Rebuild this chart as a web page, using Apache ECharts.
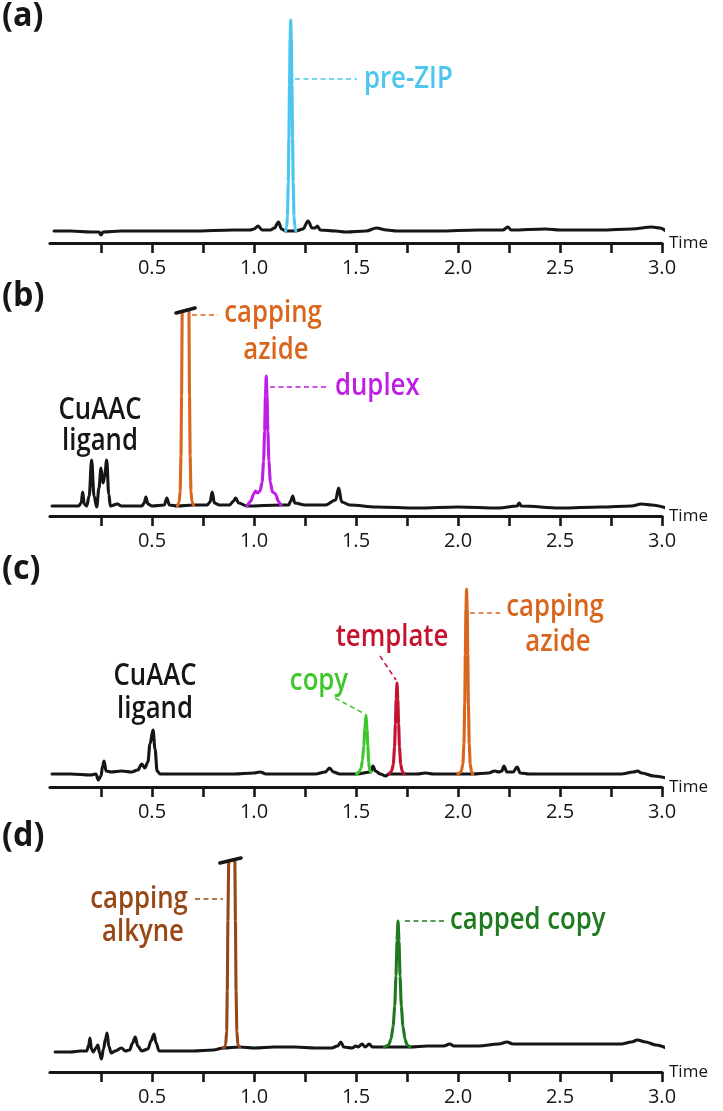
<!DOCTYPE html>
<html>
<head>
<meta charset="utf-8">
<script src="https://cdn.jsdelivr.net/npm/echarts@6/dist/echarts.min.js"></script>
<style>
html,body{margin:0;padding:0;background:#fff;}
#chart{width:723px;height:1111px;}
</style>
</head>
<body>
<div id="chart"></div>
<script>
// ---------- DATA (retention time in min, signal in arbitrary units) ----------
const timeTicks = [0.25, 0.5, 0.75, 1.0, 1.25, 1.5, 1.75, 2.0, 2.25, 2.5, 2.75, 3.0];
const timeLabels = [0.5, 1.0, 1.5, 2.0, 2.5, 3.0];
const panelLetters = ['(a)', '(b)', '(c)', '(d)'];

// (a)
const traceA = [[0.02,0],[0.10,0],[0.20,-1],[0.24,-1],[0.25,-4],[0.26,-1],[0.35,0],[0.5,0],[0.7,0],[0.9,1],[0.98,1],[1.0,2],[1.02,5],[1.04,1],[1.08,1],[1.10,3],[1.12,9],[1.135,2],[1.155,0],
  [1.205,0],[1.24,2],[1.265,10],[1.285,3],[1.30,3],[1.31,5],[1.325,1],[1.40,0],[1.45,-1],[1.55,0],[1.60,3],[1.65,1],[1.70,0],[1.90,0],[2.10,1],[2.22,1],[2.245,4],[2.26,1],[2.43,2],[2.50,1],[2.70,1],[2.85,2],[2.95,4],[2.99,3],[3.02,0]];
const peakPreZIP = [[1.155,0],[1.16,4],[1.164,15],[1.168,49],[1.171,93],[1.174,146],[1.177,192],[1.18,211],[1.183,192],[1.186,146],[1.189,93],[1.192,49],[1.196,15],[1.20,4],[1.205,0]];

// (b)
const traceB = [[0.01,0],[0.10,0],[0.14,0],[0.153,3],[0.16,14],[0.168,2],[0.18,0],[0.192,10],[0.204,46],[0.216,10],[0.229,-1],[0.24,18],[0.25,38],[0.26,23],[0.268,30],[0.278,46],[0.288,12],[0.296,0],[0.33,2],[0.35,0],[0.45,0],[0.462,3],[0.47,9],[0.48,2],[0.50,0],[0.56,1],[0.573,8],[0.585,1],[0.625,0],
  [0.703,1],[0.77,1],[0.785,4],[0.795,14],[0.806,3],[0.83,1],[0.88,1],[0.90,5],[0.91,8],[0.925,3],[0.965,0],
  [1.132,1],[1.17,1],[1.18,5],[1.19,10],[1.20,3],[1.25,1],[1.35,1],[1.40,6],[1.415,18],[1.43,4],[1.47,1],[1.60,-1],[1.80,-2],[2.00,-1],[2.20,-2],[2.29,0],[2.30,3],[2.31,0],[2.50,-2],[2.70,-1],[2.85,0],[2.90,2],[2.95,1],[3.02,-2]];
const peakCapAzideB = [[0.625,0],[0.633,4],[0.638,15],[0.642,50],[0.645,110],[0.648,194.5],[0.681,196.5],[0.684,110],[0.687,50],[0.691,15],[0.696,4],[0.703,1]];
const peakDuplexB = [[0.965,0],[0.985,5],[0.998,12],[1.008,15],[1.018,13],[1.03,15],[1.04,24],[1.047,45],[1.052,75],[1.056,110],[1.06,130],[1.064,110],[1.068,75],[1.073,45],[1.08,24],[1.09,14],[1.10,13],[1.108,11],[1.118,5],[1.132,1]];
const offScaleB = [[0.618,193],[0.711,198]];

// (c)
const traceC = [[0.01,0],[0.10,0],[0.20,-1],[0.225,0],[0.237,-6],[0.25,-2],[0.258,8],[0.265,13],[0.275,3],[0.30,2],[0.35,3],[0.40,2],[0.43,4],[0.45,10],[0.465,6],[0.48,12],[0.49,30],[0.505,44],[0.515,25],[0.525,3],[0.54,0],[0.70,0],[0.90,0],[1.00,1],[1.03,2],[1.06,0],[1.30,0],[1.35,2],[1.37,6],[1.39,2],[1.42,0],[1.503,0],
  [1.572,2],[1.583,8],[1.595,3],[1.62,0],[1.645,-2],[1.662,0],
  [1.735,0],[1.80,0],[1.84,1],[1.88,0],[2.00,0],
  [2.072,0],[2.15,1],[2.18,3],[2.20,2],[2.215,3],[2.225,8],[2.24,2],[2.27,2],[2.29,7],[2.305,1],[2.35,0],[2.60,0],[2.80,0],[2.86,2],[2.88,3],[2.90,1],[2.96,-2],[3.02,-4]];
const peakCopyC = [[1.503,0],[1.515,2],[1.525,6],[1.532,14],[1.538,28],[1.543,45],[1.549,59],[1.554,45],[1.558,28],[1.562,12],[1.567,4],[1.572,2]];
const peakTemplateC = [[1.662,0],[1.675,3],[1.683,10],[1.689,27],[1.693,50],[1.697,75],[1.701,91],[1.705,75],[1.709,50],[1.713,27],[1.719,10],[1.726,3],[1.735,0]];
const peakCapAzideC = [[2.00,0],[2.015,2],[2.024,10],[2.029,30],[2.033,70],[2.036,120],[2.039,165],[2.042,185],[2.045,165],[2.048,120],[2.051,70],[2.055,30],[2.06,10],[2.066,2],[2.072,0]];

// (d)
const traceD = [[0.025,-1],[0.10,-1],[0.15,0],[0.18,0],[0.19,6],[0.196,13],[0.203,2],[0.212,-1],[0.225,3],[0.235,6],[0.243,-2],[0.252,-8],[0.262,2],[0.272,12],[0.28,18],[0.288,5],[0.30,-2],[0.32,0],[0.35,3],[0.37,0],[0.39,1],[0.405,8],[0.418,14],[0.43,5],[0.45,0],[0.48,2],[0.495,10],[0.51,17],[0.52,8],[0.535,0],[0.60,0],[0.70,0],[0.80,1],[0.85,3],
  [0.93,4],[1.00,3],[1.10,4],[1.20,4],[1.30,3],[1.38,3],[1.41,5],[1.426,9],[1.44,4],[1.48,3],[1.50,5],[1.51,4],[1.53,7],[1.545,4],[1.565,7],[1.58,4],[1.64,4],
  [1.765,4],[1.85,5],[1.93,5],[1.96,7],[1.98,5],[2.10,5],[2.20,7],[2.24,9],[2.27,7],[2.40,7],[2.60,7],[2.80,7],[2.85,9],[2.88,11],[2.92,9],[2.97,6],[3.03,2]];
const peakCapAlkyneD = [[0.85,3],[0.856,4],[0.861,6],[0.866,20],[0.869,60],[0.872,130],[0.876,190.1],[0.906,191.5],[0.909,130],[0.912,60],[0.916,20],[0.921,6],[0.93,4]];
const peakCappedCopyD = [[1.64,4],[1.66,6],[1.672,12],[1.682,25],[1.69,45],[1.696,75],[1.701,110],[1.706,130],[1.711,110],[1.716,75],[1.722,45],[1.73,25],[1.74,12],[1.75,6],[1.765,4]];
const offScaleD = [[0.833,188],[0.936,193]];

// ---------- LAYOUT / STYLE ----------
const FONT = '"Open Sans", "Noto Sans", sans-serif';
const INK = '#161616';
const COL = {
  cyan: '#4cc6ee', orange: '#d9661c', purple: '#bf1fe4', red: '#c4122f',
  green: '#3cc82a', brown: '#9a4716', dkgreen: '#1f7a1f'
};
const panels = [
  {top: 15,  height: 228, yMin: -12, yMax: 216},
  {top: 300, height: 216, yMin: -10, yMax: 206},
  {top: 570, height: 217, yMin: -13, yMax: 204},
  {top: 845, height: 227, yMin: -21, yMax: 206}
];

const grids = [], xAxes = [], yAxes = [];
panels.forEach((p, i) => {
  grids.push({left: 50, width: 612, top: p.top, height: p.height, containLabel: false});
  xAxes.push({
    type: 'value', gridIndex: i, min: 0, max: 3.0,
    name: 'Time', nameLocation: 'end', nameGap: 7,
    nameTextStyle: {fontFamily: FONT, fontSize: 17, color: INK, verticalAlign: 'middle', padding: [5, 0, 0, 0]},
    axisLine: {onZero: false, lineStyle: {color: INK, width: 3.2}},
    axisTick: {show: true, customValues: timeTicks, length: 10, lineStyle: {color: INK, width: 2.6}},
    axisLabel: {show: true, customValues: timeLabels, margin: 15, fontFamily: FONT, fontSize: 20, color: INK,
      formatter: v => Number(v).toFixed(1)},
    splitLine: {show: false}
  });
  yAxes.push({type: 'value', gridIndex: i, min: p.yMin, max: p.yMax, show: false});
});

function line(idx, data, color, width, z, smooth) {
  return {
    type: 'line', xAxisIndex: idx, yAxisIndex: idx, data: data,
    showSymbol: false, symbol: 'none', clip: false, silent: true,
    smooth: smooth, smoothMonotone: 'x', z: z,
    lineStyle: {color: color, width: width, cap: 'round', join: 'round'}
  };
}

const series = [
  line(0, traceA, INK, 3.1, 2, 0.35),
  line(0, peakPreZIP, COL.cyan, 3.1, 3, 0.2),
  line(1, traceB, INK, 3.1, 2, 0.35),
  line(1, peakCapAzideB, COL.orange, 3.1, 3, 0.15),
  line(1, peakDuplexB, COL.purple, 3.1, 3, 0.2),
  line(1, offScaleB, INK, 3.6, 4, false),
  line(2, traceC, INK, 3.1, 2, 0.35),
  line(2, peakCopyC, COL.green, 3.1, 3, 0.2),
  line(2, peakTemplateC, COL.red, 3.1, 3, 0.2),
  line(2, peakCapAzideC, COL.orange, 3.1, 3, 0.2),
  line(3, traceD, INK, 3.1, 2, 0.35),
  line(3, peakCapAlkyneD, COL.brown, 3.1, 3, 0.15),
  line(3, peakCappedCopyD, COL.dkgreen, 3.1, 3, 0.2),
  line(3, offScaleD, INK, 3.6, 4, false)
];

// annotation text (pixel layout)
const SX = 0.83;
const notes = [
  {t: 'pre-ZIP', x: 364, y: 79, align: 'left', c: COL.cyan},
  {t: 'capping', x: 273, y: 313, align: 'center', c: COL.orange},
  {t: 'azide', x: 276, y: 350, align: 'center', c: COL.orange},
  {t: 'duplex', x: 335, y: 386, align: 'left', c: COL.purple},
  {t: 'CuAAC', x: 100, y: 410, align: 'center', c: INK},
  {t: 'ligand', x: 100, y: 441, align: 'center', c: INK},
  {t: 'CuAAC', x: 155, y: 676, align: 'center', c: INK},
  {t: 'ligand', x: 155, y: 709, align: 'center', c: INK},
  {t: 'copy', x: 319, y: 681, align: 'center', c: COL.green},
  {t: 'template', x: 392, y: 637, align: 'center', c: COL.red},
  {t: 'capping', x: 555, y: 607, align: 'center', c: COL.orange},
  {t: 'azide', x: 558, y: 642, align: 'center', c: COL.orange},
  {t: 'capping', x: 139, y: 899, align: 'center', c: COL.brown},
  {t: 'alkyne', x: 143, y: 932, align: 'center', c: COL.brown},
  {t: 'capped copy', x: 450, y: 920, align: 'left', c: COL.dkgreen}
];
const leaders = [
  {p: [295, 79, 357, 79], c: COL.cyan},
  {p: [192, 315, 218, 315], c: COL.orange},
  {p: [270, 387, 328, 387], c: COL.purple},
  {p: [470, 613, 500, 613], c: COL.orange},
  {p: [380, 656, 396, 680], c: COL.red},
  {p: [335, 698, 365, 714], c: COL.green},
  {p: [195, 899, 223, 899], c: COL.brown},
  {p: [405, 921, 445, 921], c: COL.dkgreen}
];
const letterPos = [[2, -1], [2, 279], [2, 552], [2, 819]];

const graphics = [];
panelLetters.forEach((s, i) => graphics.push({
  type: 'text', x: letterPos[i][0], y: letterPos[i][1], scaleX: 0.95, silent: true,
  style: {text: s, fontFamily: FONT, fontWeight: 'bold', fontSize: 34, fill: INK, align: 'left', verticalAlign: 'top'}
}));
notes.forEach(n => graphics.push({
  type: 'text', x: n.x, y: n.y, scaleX: SX, silent: true, z: 10,
  style: {text: n.t, fontFamily: FONT, fontWeight: 600, fontSize: 31, fill: n.c, align: n.align, verticalAlign: 'middle'}
}));
leaders.forEach(l => graphics.push({
  type: 'line', silent: true, z: 10,
  shape: {x1: l.p[0], y1: l.p[1], x2: l.p[2], y2: l.p[3]},
  style: {stroke: l.c, lineWidth: 1.5, lineDash: [5, 3.5]}
}));

const chart = echarts.init(document.getElementById('chart'), null, {renderer: 'canvas'});
chart.setOption({
  animation: false,
  backgroundColor: '#ffffff',
  grid: grids, xAxis: xAxes, yAxis: yAxes,
  series: series,
  graphic: graphics
});
</script>
</body>
</html>
